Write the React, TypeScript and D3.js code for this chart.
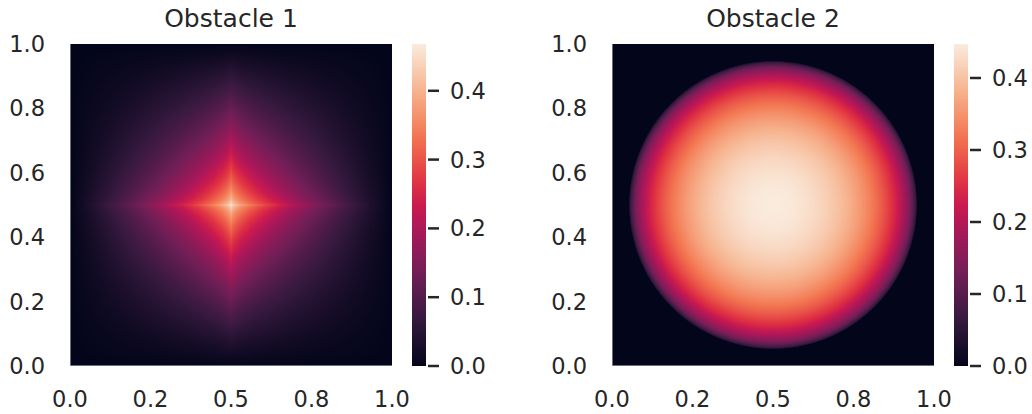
import React, { useMemo } from "react";
import * as d3 from "d3";

// rocket colormap control points (seaborn)
const rocketStops = [0, 1 / 7, 2 / 7, 3 / 7, 0.5, 4 / 7, 5 / 7, 6 / 7, 1];
const rocketColors = ["#03051a", "#35193e", "#701f57", "#ad1759", "#cb1b4f", "#e13342", "#f37651", "#f6b48f", "#faebdd"];

const titles = ["Obstacle 1", "Obstacle 2"];
const xTicks = [0, 0.25, 0.5, 0.75, 1];
const xTickLabels = ["0.0", "0.2", "0.5", "0.8", "1.0"];
const yTicks = [0, 0.2, 0.4, 0.6, 0.8, 1.0];
const cbTicks = [0, 0.1, 0.2, 0.3, 0.4];

// obstacle parameters
const peak1 = 0.468; // height of the star-shaped peak
const decay1 = 0.63; // exponent of the cusp profile
const radius2 = Math.sqrt(0.2); // radius of the hemisphere

const obstacle1 = (x: number, y: number) => {
  const u = (t: number) => Math.max(0, 1 - Math.pow(2 * Math.abs(t - 0.5), decay1));
  return peak1 * u(x) * u(y);
};
const obstacle2 = (x: number, y: number) => {
  const r2 = (x - 0.5) ** 2 + (y - 0.5) ** 2;
  return Math.sqrt(Math.max(0, radius2 * radius2 - r2));
};
const fields = [obstacle1, obstacle2];

const N = 321; // odd, so the centre of the square is sampled
const size = 322;
const top = 44;
const panelX = [70, 612];
const ink = "#262626";
const font = "DejaVu Sans, sans-serif";

const rocket = d3.scaleLinear<string>().domain(rocketStops).range(rocketColors).interpolate(d3.interpolateRgb).clamp(true);

function makeImage(f: (x: number, y: number) => number) {
  const vals = new Float64Array(N * N);
  let vmax = 0;
  for (let j = 0; j < N; j++) {
    for (let i = 0; i < N; i++) {
      const v = f((i + 0.5) / N, 1 - (j + 0.5) / N);
      vals[j * N + i] = v;
      if (v > vmax) vmax = v;
    }
  }
  const canvas = document.createElement("canvas");
  canvas.width = N;
  canvas.height = N;
  const ctx = canvas.getContext("2d")!;
  const img = ctx.createImageData(N, N);
  for (let k = 0; k < N * N; k++) {
    const c = d3.rgb(rocket(vals[k] / vmax));
    img.data[k * 4] = c.r;
    img.data[k * 4 + 1] = c.g;
    img.data[k * 4 + 2] = c.b;
    img.data[k * 4 + 3] = 255;
  }
  ctx.putImageData(img, 0, 0);
  return { url: canvas.toDataURL(), vmax };
}

function Panel({ idx }: { idx: number }) {
  const x0 = panelX[idx];
  const { url, vmax } = useMemo(() => makeImage(fields[idx]), [idx]);
  const xs = d3.scaleLinear().domain([0, 1]).range([x0, x0 + size]);
  const ys = d3.scaleLinear().domain([0, 1]).range([top + size, top]);
  const cs = d3.scaleLinear().domain([0, vmax]).range([top + size, top]);
  const cbX = x0 + 342;
  const gid = "cb" + idx;
  const stops = d3.range(0, 1.0001, 0.05);
  return (
    <g>
      <defs>
        <linearGradient id={gid} x1="0" y1="1" x2="0" y2="0">
          {stops.map((s) => (
            <stop key={s} offset={s} stopColor={rocket(s)} />
          ))}
        </linearGradient>
      </defs>
      <text x={x0 + size / 2} y={18} textAnchor="middle" dominantBaseline="central" fontSize={25} fill={ink}>
        {titles[idx]}
      </text>
      <image href={url} x={x0} y={top} width={size} height={size} preserveAspectRatio="none" />
      <line x1={x0 + 0.5} x2={x0 + 0.5} y1={top} y2={top + size} stroke="#9a9aaa" strokeOpacity={0.7} />
      <line x1={x0} x2={x0 + size} y1={top + size - 0.5} y2={top + size - 0.5} stroke="#9a9aaa" strokeOpacity={0.7} />
      {yTicks.map((t) => (
        <text key={t} x={x0 - 25} y={ys(t)} textAnchor="end" dominantBaseline="central" fontSize={22.5} fill={ink}>
          {t.toFixed(1)}
        </text>
      ))}
      {xTicks.map((t, i) => (
        <text key={t} x={xs(t)} y={top + size + 33} textAnchor="middle" dominantBaseline="central" fontSize={22.5} fill={ink}>
          {xTickLabels[i]}
        </text>
      ))}
      <rect x={cbX} y={top} width={14} height={size} fill={`url(#${gid})`} />
      {cbTicks.map((t) => (
        <g key={t}>
          <line x1={cbX + 16} x2={cbX + 27} y1={cs(t)} y2={cs(t)} stroke={ink} strokeWidth={2.5} />
          <text x={cbX + 38} y={cs(t)} dominantBaseline="central" fontSize={22.5} fill={ink}>
            {t.toFixed(1)}
          </text>
        </g>
      ))}
    </g>
  );
}

export default function App() {
  return (
    <svg width={1032} height={414} style={{ position: "absolute", left: 0, top: 0, fontFamily: font }}>
      <rect width={1032} height={414} fill="white" />
      <Panel idx={0} />
      <Panel idx={1} />
    </svg>
  );
}
